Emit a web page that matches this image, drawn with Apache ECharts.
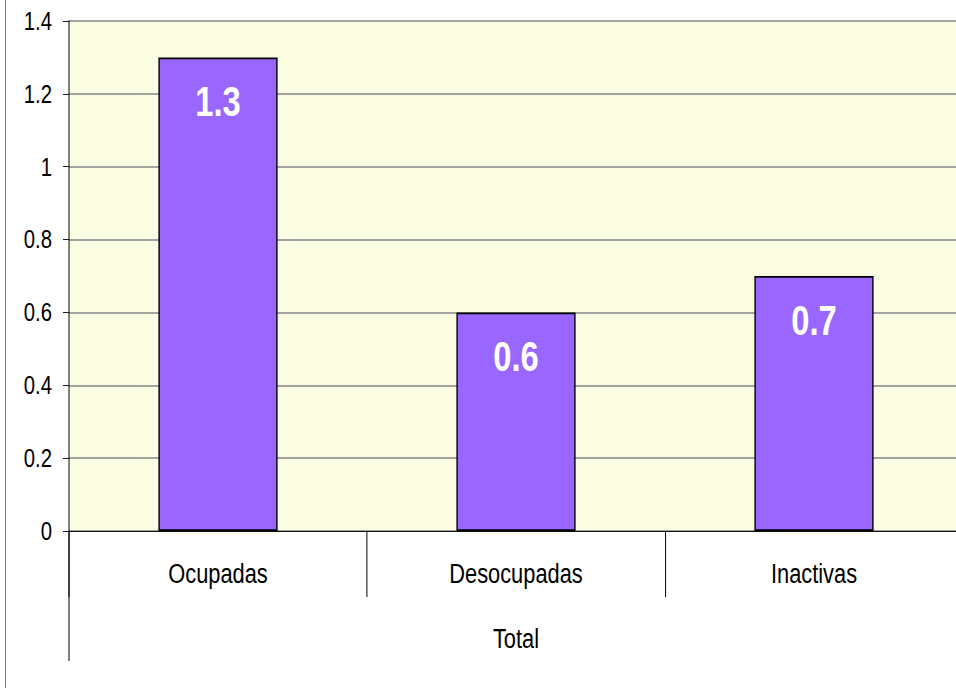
<!DOCTYPE html>
<html><head><meta charset="utf-8">
<script src="https://cdn.jsdelivr.net/npm/echarts@6/dist/echarts.min.js"></script>
<style>
html,body{margin:0;padding:0;background:#fff;overflow:hidden;width:956px;height:688px}
#c{width:1226px;height:688px;transform:scaleX(0.7798);transform-origin:0 0}
</style>
</head><body><div id="c"></div>
<script>
const categories = ['Ocupadas', 'Desocupadas', 'Inactivas'];
const groupLabels = ['Total'];
const values = [1.3, 0.6, 0.7];
const yTicks = {min: 0, max: 1.4, interval: 0.2};

const S = 0.7798; // horizontal compression of the whole drawing
const X = v => v / S;
const FONT = "'Liberation Sans',Arial,sans-serif";
const chart = echarts.init(document.getElementById('c'), null, {renderer: 'svg'});
chart.setOption({
  animation: false,
  backgroundColor: '#ffffff',
  graphic: [{type: 'line', shape: {x1: X(5.5), y1: 0, x2: X(5.5), y2: 688}, style: {stroke: '#808080', lineWidth: X(1)}}],
  grid: {left: X(69), width: X(894), top: 21, bottom: 157, outerBoundsMode: 'none',
    backgroundColor: '#FBFDE3', show: true, borderWidth: 0},
  xAxis: [{
    type: 'category', data: categories, position: 'bottom',
    axisLine: {lineStyle: {color: '#000', width: 1}},
    axisTick: {show: true, length: 66, interval: 0, lineStyle: {color: '#000', width: X(1)}},
    axisLabel: {margin: 28, fontFamily: FONT, fontSize: 28, color: '#000'},
    splitLine: {show: false}
  }, {
    type: 'category', data: groupLabels, position: 'bottom',
    axisLine: {show: false},
    axisTick: {show: true, length: 130, interval: 0, lineStyle: {color: '#000', width: X(1)}},
    axisLabel: {margin: 93, fontFamily: FONT, fontSize: 28, color: '#000'}
  }],
  yAxis: {
    type: 'value', min: yTicks.min, max: yTicks.max, interval: yTicks.interval,
    axisLine: {show: true, lineStyle: {color: '#000', width: X(1)}},
    axisTick: {show: true, length: X(6), lineStyle: {color: '#000', width: 1}},
    axisLabel: {margin: X(17), fontFamily: FONT, fontSize: 26, color: '#000',
      formatter: v => String(Math.round(v * 10) / 10)},
    splitLine: {show: true, lineStyle: {color: '#858585', width: 1.5}}
  },
  series: [{
    type: 'bar', data: values, xAxisIndex: 0, barWidth: '40%',
    itemStyle: {color: '#9966FF', borderColor: '#000', borderWidth: 1.8},
    label: {show: true, position: 'insideTop', distance: 23, color: '#fff',
      fontFamily: FONT, fontWeight: 'bold', fontSize: 42,
      formatter: p => String(p.value)}
  }]
});
</script></body></html>
